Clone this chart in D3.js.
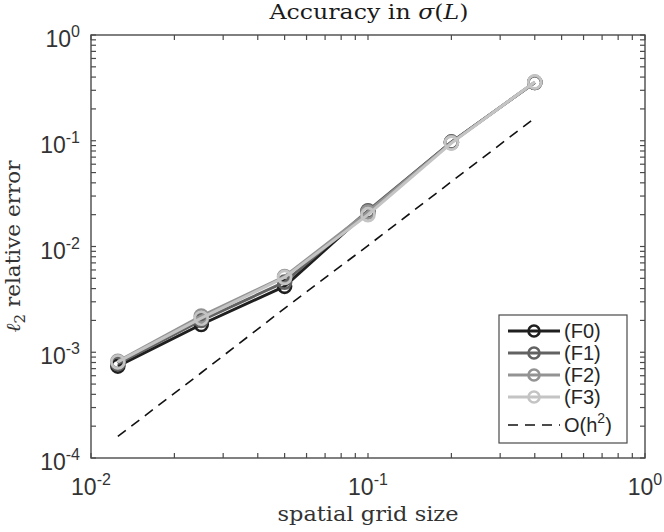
<!DOCTYPE html>
<html>
<head>
<meta charset="utf-8">
<script src="https://cdn.jsdelivr.net/npm/d3@7"></script>
<style>
  body { margin: 0; background: #fff; }
  svg { display: block; }
</style>
</head>
<body>
<div id="chart"></div>
<script>
// grid sizes and l2 relative errors
const gridSize = [0.0125, 0.025, 0.05, 0.1, 0.2, 0.4];
const errF0 = [0.00074, 0.00183, 0.0042, 0.0215, 0.097, 0.355];
const errF1 = [0.00078, 0.0020, 0.0046, 0.0218, 0.097, 0.355];
const errF2 = [0.00082, 0.0022, 0.0052, 0.0212, 0.096, 0.357];
const errF3 = [0.00081, 0.0021, 0.0051, 0.0200, 0.095, 0.36];
const refH2 = [0.00016, 0.00064, 0.0026, 0.0102, 0.041, 0.164];
const seriesNames = ['(F0)', '(F1)', '(F2)', '(F3)'];
const seriesColors = ['#1f1f1f', '#626262', '#939393', '#c4c4c4'];
const xTicks = [0.01, 0.1, 1];
const yTicks = [0.0001, 0.001, 0.01, 0.1, 1];

const W = 664, H = 532;
const m = { left: 91, right: 19, top: 35, bottom: 74 };

const svg = d3.select('#chart').append('svg')
  .attr('width', W).attr('height', H);

const x = d3.scaleLog().domain([0.01, 1]).range([m.left, W - m.right]);
const y = d3.scaleLog().domain([0.0001, 1]).range([H - m.bottom, m.top]);

const axisCol = '#4a4a4a';
const tickFont = 'Liberation Sans, Arial, Helvetica, sans-serif';
const texFont = 'DejaVu Serif, Liberation Serif, serif';

// minor + major ticks, inward, on all four sides (box on)
const minorX = [], minorY = [];
for (let e = -2; e < 0; e++) for (let k = 1; k <= 9; k++) minorX.push(k * Math.pow(10, e));
for (let e = -4; e < 0; e++) for (let k = 1; k <= 9; k++) minorY.push(k * Math.pow(10, e));
minorX.push(1); minorY.push(1);

const g = svg.append('g');
const tl = 5;
minorX.forEach(v => {
  g.append('line').attr('x1', x(v)).attr('x2', x(v))
    .attr('y1', y.range()[0]).attr('y2', y.range()[0] - tl)
    .attr('stroke', axisCol).attr('stroke-width', 1.2);
  g.append('line').attr('x1', x(v)).attr('x2', x(v))
    .attr('y1', y.range()[1]).attr('y2', y.range()[1] + tl)
    .attr('stroke', axisCol).attr('stroke-width', 1.2);
});
minorY.forEach(v => {
  g.append('line').attr('y1', y(v)).attr('y2', y(v))
    .attr('x1', x.range()[0]).attr('x2', x.range()[0] + tl)
    .attr('stroke', axisCol).attr('stroke-width', 1.2);
  g.append('line').attr('y1', y(v)).attr('y2', y(v))
    .attr('x1', x.range()[1]).attr('x2', x.range()[1] - tl)
    .attr('stroke', axisCol).attr('stroke-width', 1.2);
});

// dashed O(h^2) reference
const line = d3.line().x(d => x(d[0])).y(d => y(d[1]));
svg.append('path')
  .datum(gridSize.map((h, i) => [h, refH2[i]]))
  .attr('d', line).attr('fill', 'none')
  .attr('stroke', '#111').attr('stroke-width', 1.6)
  .attr('stroke-dasharray', '10,7');

// error series
const allErr = [errF0, errF1, errF2, errF3];
allErr.forEach((vals, s) => {
  const pts = gridSize.map((h, i) => [h, vals[i]]);
  svg.append('path').datum(pts).attr('d', line)
    .attr('fill', 'none').attr('stroke', seriesColors[s])
    .attr('stroke-width', 3).attr('stroke-linejoin', 'round');
  svg.selectAll(null).data(pts).enter().append('circle')
    .attr('cx', d => x(d[0])).attr('cy', d => y(d[1]))
    .attr('r', 6.5).attr('fill', 'none')
    .attr('stroke', seriesColors[s]).attr('stroke-width', 2.6);
});

// box
svg.append('rect')
  .attr('x', x.range()[0]).attr('y', y.range()[1])
  .attr('width', x.range()[1] - x.range()[0])
  .attr('height', y.range()[0] - y.range()[1])
  .attr('fill', 'none').attr('stroke', axisCol).attr('stroke-width', 1.4);

// tick labels 10^n
function powLabel(sel, v) {
  const e = Math.round(Math.log10(v));
  sel.append('tspan').text('10');
  sel.append('tspan').attr('dy', -10).attr('font-size', 16).text(String(e));
}
xTicks.forEach(v => {
  const t = svg.append('text')
    .attr('x', x(v)).attr('y', H - m.bottom + 37)
    .attr('text-anchor', 'middle')
    .attr('font-family', tickFont).attr('font-size', 23)
    .attr('fill', '#333');
  powLabel(t, v);
});
yTicks.forEach(v => {
  const t = svg.append('text')
    .attr('x', m.left - 11).attr('y', y(v) + 12)
    .attr('text-anchor', 'end')
    .attr('font-family', tickFont).attr('font-size', 23)
    .attr('fill', '#333');
  powLabel(t, v);
});

// title
const title = svg.append('text')
  .attr('x', 369).attr('y', 19)
  .attr('text-anchor', 'middle')
  .attr('textLength', 199).attr('lengthAdjust', 'spacingAndGlyphs')
  .attr('font-family', texFont).attr('font-size', 20).attr('fill', '#1a1a1a');
title.append('tspan').text('Accuracy in ');
title.append('tspan').attr('font-style', 'italic').text('σ');
title.append('tspan').text('(');
title.append('tspan').attr('font-style', 'italic').text('L');
title.append('tspan').text(')');

// x label
svg.append('text')
  .attr('x', 368).attr('y', 521)
  .attr('text-anchor', 'middle')
  .attr('textLength', 181).attr('lengthAdjust', 'spacingAndGlyphs')
  .attr('font-family', texFont).attr('font-size', 20).attr('fill', '#333')
  .text('spatial grid size');

// y label
const yl = svg.append('text')
  .attr('transform', `translate(20,${(y.range()[0] + y.range()[1]) / 2}) rotate(-90)`)
  .attr('text-anchor', 'middle')
  .attr('textLength', 172).attr('lengthAdjust', 'spacingAndGlyphs')
  .attr('font-family', texFont).attr('font-size', 20).attr('fill', '#333');
yl.append('tspan').attr('font-style', 'italic').text('ℓ');
yl.append('tspan').attr('dy', 5).attr('font-size', 14).text('2');
yl.append('tspan').attr('dy', -5).text(' relative error');

// legend
const lg = svg.append('g');
lg.append('rect')
  .attr('x', 499).attr('y', 315).attr('width', 128).attr('height', 128)
  .attr('fill', '#fff').attr('stroke', axisCol).attr('stroke-width', 1.2);
const rowY = [331, 353, 375, 397, 425];
seriesNames.forEach((name, s) => {
  lg.append('line').attr('x1', 508).attr('x2', 560)
    .attr('y1', rowY[s]).attr('y2', rowY[s])
    .attr('stroke', seriesColors[s]).attr('stroke-width', 3);
  lg.append('circle').attr('cx', 534).attr('cy', rowY[s]).attr('r', 5.5)
    .attr('fill', 'none').attr('stroke', seriesColors[s]).attr('stroke-width', 2.6);
  lg.append('text').attr('x', 564).attr('y', rowY[s] + 7)
    .attr('font-family', tickFont).attr('font-size', 20).attr('fill', '#262626')
    .text(name);
});
lg.append('line').attr('x1', 508).attr('x2', 560)
  .attr('y1', rowY[4]).attr('y2', rowY[4])
  .attr('stroke', '#111').attr('stroke-width', 1.6).attr('stroke-dasharray', '10,7');
const ol = lg.append('text').attr('x', 564).attr('y', rowY[4] + 7)
  .attr('font-family', tickFont).attr('font-size', 20).attr('fill', '#262626');
ol.append('tspan').text('O(h');
ol.append('tspan').attr('dy', -9).attr('font-size', 14).text('2');
ol.append('tspan').attr('dy', 9).text(')');
</script>
</body>
</html>
